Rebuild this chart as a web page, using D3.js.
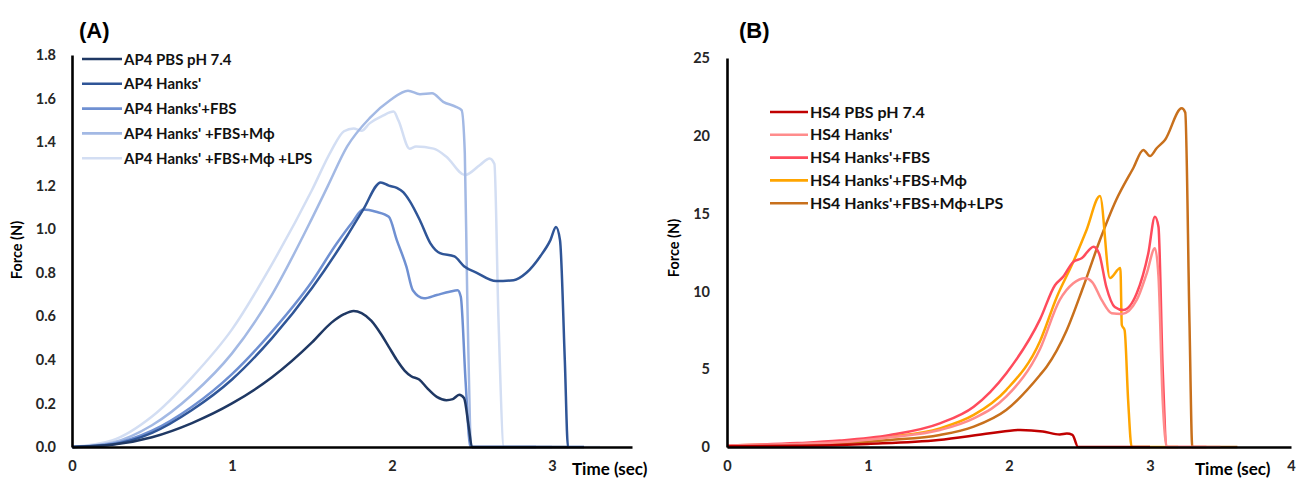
<!DOCTYPE html>
<html>
<head>
<meta charset="utf-8">
<script src="https://cdn.jsdelivr.net/npm/d3@7/dist/d3.min.js"></script>
<style>
  html, body { margin: 0; padding: 0; background: #fff; }
  svg { display: block; }
  text { font-family: Lato, "Open Sans", sans-serif; }
</style>
</head>
<body>
<svg id="chart" width="1296" height="479"></svg>
<script>
// ---------------- DATA ----------------
// Panel A: AP4 samples, [time (sec), force (N)]
const seriesNamesA = ["AP4 PBS pH 7.4", "AP4 Hanks'", "AP4 Hanks'+FBS", "AP4 Hanks' +FBS+M\u03d5", "AP4 Hanks' +FBS+M\u03d5 +LPS"];
const colorsA = ["#1f3864", "#2f5597", "#6f90d2", "#a3b9e4", "#d3def3"];

const A_PBS = [[0,0],[0.25,0.01],[0.5,0.045],[0.75,0.11],[1.0,0.2],[1.25,0.32],[1.5,0.48],[1.62,0.57],[1.7,0.61],[1.76,0.625],[1.81,0.615],[1.87,0.58],[1.93,0.52],[1.98,0.46],[2.03,0.40],[2.08,0.35],[2.12,0.325],[2.17,0.31],[2.22,0.27],[2.28,0.23],[2.34,0.215],[2.38,0.22],[2.42,0.24],[2.45,0.225],[2.48,0.09],[2.5,0],[3.1,0]];
const A_Hanks = [[0,0],[0.25,0.012],[0.5,0.065],[0.75,0.17],[1.0,0.31],[1.25,0.5],[1.5,0.73],[1.72,0.97],[1.82,1.09],[1.93,1.215],[1.98,1.2],[2.03,1.19],[2.07,1.17],[2.11,1.13],[2.175,1.04],[2.24,0.935],[2.3,0.89],[2.39,0.875],[2.45,0.83],[2.53,0.8],[2.65,0.762],[2.76,0.766],[2.84,0.8],[2.925,0.874],[2.99,0.95],[3.025,1.01],[3.05,0.95],[3.08,0.4],[3.1,0],[3.2,0]];
const A_FBS = [[0,0],[0.25,0.015],[0.5,0.075],[0.75,0.185],[1.0,0.335],[1.25,0.53],[1.5,0.76],[1.65,0.93],[1.75,1.03],[1.82,1.09],[1.9,1.08],[1.98,1.057],[2.03,0.95],[2.09,0.828],[2.13,0.72],[2.2,0.683],[2.28,0.698],[2.36,0.713],[2.41,0.72],[2.43,0.69],[2.46,0.3],[2.49,0],[2.9,0]];
const A_Mphi = [[0,0],[0.25,0.02],[0.5,0.1],[0.75,0.24],[1.0,0.43],[1.25,0.7],[1.5,1.05],[1.6,1.2],[1.72,1.38],[1.86,1.51],[1.99,1.593],[2.1,1.636],[2.175,1.62],[2.25,1.624],[2.32,1.585],[2.40,1.562],[2.435,1.547],[2.455,1.35],[2.47,0.7],[2.5,0],[3.0,0]];
const A_LPS = [[0,0],[0.25,0.03],[0.5,0.14],[0.75,0.32],[1.0,0.54],[1.25,0.84],[1.5,1.18],[1.62,1.36],[1.7,1.45],[1.76,1.463],[1.81,1.452],[1.86,1.486],[1.94,1.52],[2.01,1.54],[2.04,1.5],[2.11,1.37],[2.15,1.38],[2.26,1.37],[2.34,1.333],[2.456,1.249],[2.55,1.295],[2.61,1.325],[2.64,1.3],[2.665,0.6],[2.7,0],[3.3,0]];

// Panel B: HS4 samples, [time (sec), force (N)]
const seriesNamesB = ["HS4 PBS pH 7.4", "HS4 Hanks'", "HS4 Hanks'+FBS", "HS4 Hanks'+FBS+M\u03d5", "HS4 Hanks'+FBS+M\u03d5+LPS"];
const colorsB = ["#c00000", "#ff8c8c", "#ff4b5c", "#ffa500", "#c8701c"];

const B_PBS = [[0,0.05],[0.5,0.08],[0.8,0.13],[1.0,0.2],[1.5,0.45],[1.865,0.88],[2.08,1.1],[2.24,1.0],[2.36,0.8],[2.41,0.86],[2.45,0.78],[2.49,0],[3.0,0]];
const B_Hanks = [[0,0.1],[0.5,0.2],[0.8,0.3],[1.156,0.62],[1.51,1.09],[1.75,1.84],[1.98,3.23],[2.22,6.3],[2.36,9.45],[2.456,10.52],[2.54,10.84],[2.59,10.6],[2.657,9.45],[2.728,8.6],[2.8,8.55],[2.906,9.45],[2.977,11.16],[3.035,12.77],[3.06,11],[3.09,3],[3.12,0],[3.5,0]];
const B_FBS = [[0,0.1],[0.5,0.25],[0.8,0.41],[1.156,0.77],[1.51,1.52],[1.75,2.59],[1.98,4.73],[2.22,8.2],[2.326,10.4],[2.385,10.95],[2.456,11.9],[2.515,12.13],[2.6,12.87],[2.64,12.4],[2.69,10.3],[2.75,9.0],[2.81,8.8],[2.906,9.88],[2.988,12.45],[3.035,14.8],[3.06,14.16],[3.09,5],[3.12,0],[3.4,0]];
const B_Mphi = [[0,0.1],[0.5,0.2],[0.8,0.34],[1.156,0.66],[1.51,1.2],[1.75,2.06],[1.98,3.66],[2.22,6.8],[2.34,9.66],[2.456,11.9],[2.55,13.95],[2.645,16.13],[2.716,10.86],[2.79,11.5],[2.80,7.84],[2.82,7.5],[2.845,3],[2.87,0],[3.2,0]];
const B_LPS = [[0,0.05],[0.5,0.12],[0.8,0.24],[1.156,0.45],[1.51,0.77],[1.75,1.31],[1.98,2.38],[2.22,4.63],[2.267,5.16],[2.41,7.52],[2.527,10.3],[2.645,13.3],[2.76,15.87],[2.88,17.9],[2.953,19.09],[3.0,18.7],[3.047,19.2],[3.106,19.73],[3.225,21.77],[3.25,21.5],[3.28,8],[3.30,0],[3.62,0]];

const seriesA = [A_PBS, A_Hanks, A_FBS, A_Mphi, A_LPS];
const seriesB = [B_PBS, B_Hanks, B_FBS, B_Mphi, B_LPS];

const yTicksA = [0, 0.2, 0.4, 0.6, 0.8, 1.0, 1.2, 1.4, 1.6, 1.8];
const xTicksA = [0, 1, 2, 3];
const yTicksB = [0, 5, 10, 15, 20, 25];
const xTicksB = [0, 1, 2, 3, 4];

// ---------------- DRAW ----------------
const svg = d3.select("#chart");

function panel(cfg) {
  const g = svg.append("g");
  const x = d3.scaleLinear().domain(cfg.xDomain).range(cfg.xRange);
  const y = d3.scaleLinear().domain(cfg.yDomain).range(cfg.yRange);

  const line = d3.line().x(d => x(d[0])).y(d => y(d[1])).curve(d3.curveMonotoneX);

  const order = d3.range(cfg.series.length).reverse();
  order.forEach(i => {
    g.append("path")
      .datum(cfg.series[i])
      .attr("fill", "none")
      .attr("stroke", cfg.colors[i])
      .attr("stroke-width", 2.5)
      .attr("stroke-linejoin", "round")
      .attr("d", line);
  });

  const yAxis = d3.axisLeft(y).tickValues(cfg.yTicks).tickSize(0).tickPadding(cfg.yPad).tickFormat(cfg.yFmt);
  const xAxis = d3.axisBottom(x).tickValues(cfg.xTicks).tickSize(0).tickPadding(14).tickFormat(d3.format("d"));

  const ga = g.append("g").attr("transform", `translate(${cfg.xRange[0]},0)`).call(yAxis);
  const gb = g.append("g").attr("transform", `translate(0,${cfg.yRange[0]})`).call(xAxis);
  [ga, gb].forEach(a => {
    a.select(".domain").attr("stroke", "#000").attr("stroke-width", 2.6);
    a.selectAll("text").attr("fill", "#262626").style("font-size", "14.5px").style("font-weight", "700")
      .style("font-family", "Lato, 'Open Sans', sans-serif");
  });

  g.append("text")
    .attr("transform", `translate(${cfg.yTitleX},${cfg.yTitleY}) rotate(-90)`)
    .attr("text-anchor", "middle")
    .attr("fill", "#000")
    .style("font-size", "14.5px").style("font-weight", "700")
    .text("Force (N)");
  g.append("text")
    .attr("x", cfg.xTitleX).attr("y", 475)
    .attr("fill", "#000")
    .style("font-size", "17px").style("font-weight", "700")
    .text("Time (sec)");

  g.append("text")
    .attr("x", cfg.labelX).attr("y", 38)
    .attr("fill", "#000")
    .style("font-family", "Arial, 'Liberation Sans', sans-serif")
    .style("font-size", "22px").style("font-weight", "700")
    .text(cfg.label);

  cfg.names.forEach((n, i) => {
    const ly = cfg.legY + i * cfg.legStep;
    g.append("line")
      .attr("x1", cfg.legX).attr("x2", cfg.legX + cfg.legLen)
      .attr("y1", ly).attr("y2", ly)
      .attr("stroke", cfg.colors[i]).attr("stroke-width", 2.6);
    g.append("text")
      .attr("x", cfg.legX + cfg.legLen + 2).attr("y", ly + 5.5)
      .attr("fill", "#111")
      .style("font-size", cfg.legFont).style("font-weight", "700")
      .text(n);
  });
}

panel({
  xDomain: [0, 3.5], xRange: [72, 632],
  yDomain: [0, 1.8], yRange: [447, 55],
  series: seriesA, colors: colorsA, names: seriesNamesA,
  yTicks: yTicksA, xTicks: xTicksA, yFmt: d3.format(".1f"), yPad: 16,
  yTitleX: 22, yTitleY: 250, xTitleX: 572,
  label: "(A)", labelX: 79,
  legX: 82, legY: 59, legStep: 24.8, legLen: 40, legFont: "15px"
});

panel({
  xDomain: [0, 4], xRange: [727, 1291],
  yDomain: [0, 25], yRange: [447, 58],
  series: seriesB, colors: colorsB, names: seriesNamesB,
  yTicks: yTicksB, xTicks: xTicksB, yFmt: d3.format("d"), yPad: 17,
  yTitleX: 679, yTitleY: 248, xTitleX: 1195,
  label: "(B)", labelX: 739,
  legX: 770, legY: 112, legStep: 22.8, legLen: 38, legFont: "16px"
});
</script>
</body>
</html>
